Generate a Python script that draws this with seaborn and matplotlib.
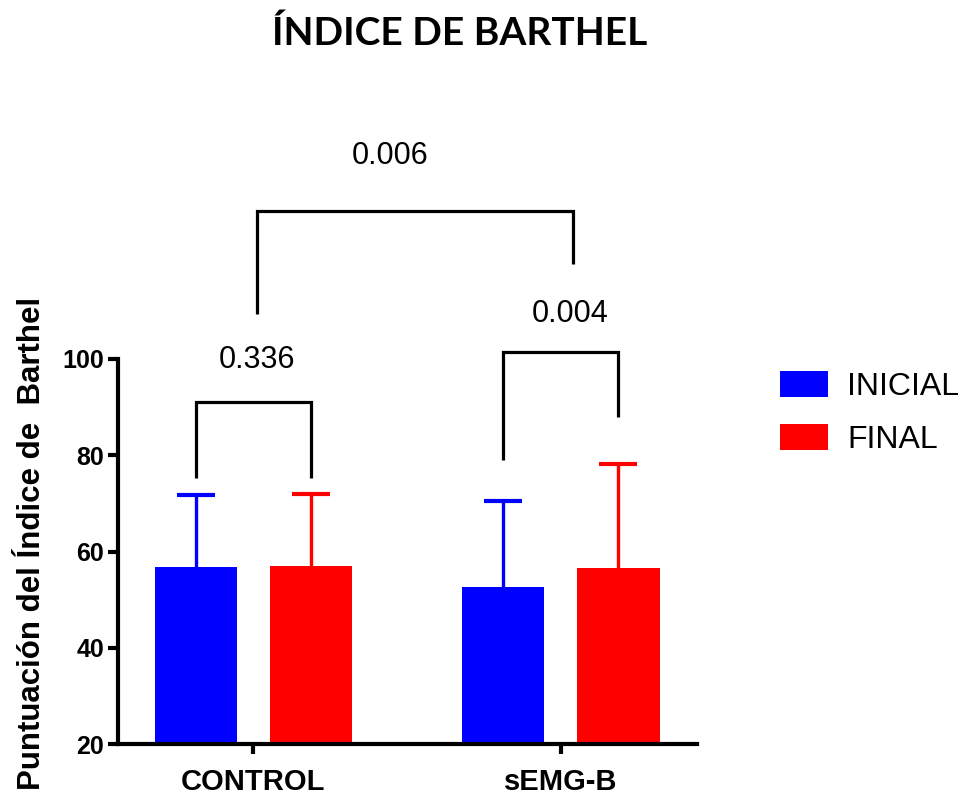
import matplotlib
matplotlib.use("Agg")
import matplotlib.pyplot as plt
from matplotlib.patches import Patch
import seaborn as sns
import pandas as pd
import numpy as np

# ---- data ----
groups = ["CONTROL", "sEMG-B"]
phases = ["INICIAL", "FINAL"]
mean_inicial = [56.7, 52.6]
mean_final = [56.9, 56.5]
sd_inicial = [15.1, 17.9]
sd_final = [15.0, 21.7]
colors = {"INICIAL": "#0000FF", "FINAL": "#FF0000"}
y_ticks = [20, 40, 60, 80, 100]
p_values = ["0.336", "0.004", "0.006"]

sns.set_theme(style="ticks")
plt.rcParams['font.family'] = ['Liberation Sans', 'DejaVu Sans']
for k in ["text.color", "axes.labelcolor", "xtick.color", "ytick.color",
          "axes.edgecolor"]:
    plt.rcParams[k] = "black"

df = pd.DataFrame({
    "Grupo": groups * 2,
    "Fase": ["INICIAL"] * 2 + ["FINAL"] * 2,
    "Media": mean_inicial + mean_final,
    "DE": sd_inicial + sd_final,
})

fig = plt.figure(figsize=(9.65, 8), dpi=100)
ax = fig.add_axes([0.1223, 0.07, 0.6, 0.48125])

sns.barplot(data=df, x="Grupo", y="Media", hue="Fase", order=groups,
            hue_order=phases, palette=colors, width=0.752, gap=0.287,
            errorbar=None, saturation=1, linewidth=0, legend=False, ax=ax)

centers = {}
for phase, cont in zip(phases, ax.containers):
    xs = [p.get_x() + p.get_width() / 2 for p in cont.patches]
    centers[phase] = xs
    sub = df[df["Fase"] == phase].set_index("Grupo").loc[groups]
    means = sub["Media"].values
    eb = ax.errorbar(xs, means,
                     yerr=[np.zeros(len(xs)), sub["DE"].values],
                     fmt="none", ecolor=colors[phase], elinewidth=2.4,
                     capsize=13.7, capthick=3, clip_on=False, zorder=3)
    for cl in eb[1]:
        if np.allclose(np.asarray(cl.get_ydata(), dtype=float), means):
            cl.set_visible(False)

def bracket(x1, x2, top, lb, rb, label, tx, ty):
    ax.plot([x1, x1, x2, x2], [lb, top, top, rb], color="black", lw=2.3,
            clip_on=False, solid_joinstyle="miter", solid_capstyle="butt")
    ax.text(tx, ty, label, ha="center", va="center", fontsize=22,
            color="black", clip_on=False)

bracket(centers["INICIAL"][0], centers["FINAL"][0], 91.0, 75.3, 75.3,
        p_values[0], 0.011, 99.8)
bracket(centers["INICIAL"][1], centers["FINAL"][1], 101.5, 79.0, 87.9,
        p_values[1], 1.03, 109.4)
bracket(0.012, 1.039, 130.7, 109.4, 119.8, p_values[2], 0.445, 142.1)

ax.set_ylim(20, 100)
ax.set_xlim(-0.441, 1.444)
ax.set_yticks(y_ticks)
ax.set_xlabel("")
ax.set_ylabel("Puntuación del Índice de  Barthel", fontsize=22.5,
              fontweight="bold")
ax.yaxis.set_label_coords(-0.122, 0.52)
sns.despine(ax=ax)
for s in ["left", "bottom"]:
    ax.spines[s].set_linewidth(3)
ax.tick_params(axis="y", length=7, width=3, labelsize=18, pad=3)
ax.tick_params(axis="x", length=7, width=3, labelsize=21, pad=10)
for lab in ax.get_yticklabels() + ax.get_xticklabels():
    lab.set_fontweight("bold")

fig.text(0.476, 1 - 33 / 800, "ÍNDICE DE BARTHEL", ha="center", va="center",
         fontsize=28, fontweight="bold", family=["Lato", "DejaVu Sans"])

handles = [Patch(facecolor=colors[p], edgecolor="none") for p in phases]
fig.legend(handles, phases, loc="upper left",
           bbox_to_anchor=(780 / 965, 1 - 371 / 800), frameon=False,
           fontsize=23, handlelength=1.5, handleheight=0.87,
           handletextpad=0.6, labelspacing=0.7, borderpad=0,
           borderaxespad=0)

fig.savefig("out.png", dpi=100)
